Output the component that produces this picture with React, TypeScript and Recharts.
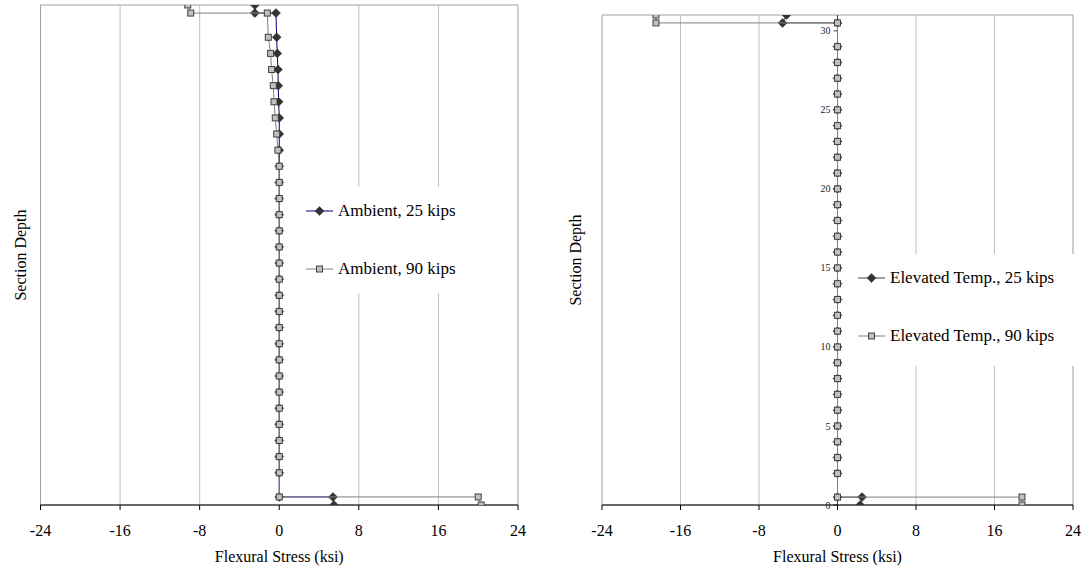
import {
  Legend,
  ReferenceArea,
  ReferenceLine,
  Scatter,
  ScatterChart,
  XAxis,
  YAxis,
} from "recharts";

const FONT = "'Liberation Serif', 'Times New Roman', serif";

// depth of each point along the section, top to bottom
const depths = [
  31, 30.5, 30.5, 29, 28, 27, 26, 25, 24, 23, 22, 21, 20, 19, 18, 17, 16, 15,
  14, 13, 12, 11, 10, 9, 8, 7, 6, 5, 4, 3, 2, 0.5, 0.5, 0,
];

const ambient25 = [
  -2.45, -2.45, -0.33, -0.26, -0.2, -0.13, -0.1, -0.06, 0, 0, 0, 0, 0, 0, 0, 0,
  0, 0, 0, 0, 0, 0, 0, 0, 0, 0, 0, 0, 0, 0, 0, 0, 5.4, 5.5,
];
const ambient90 = [
  -9.2, -8.9, -1.2, -1.1, -0.87, -0.77, -0.6, -0.53, -0.4, -0.26, -0.13, 0, 0,
  0, 0, 0, 0, 0, 0, 0, 0, 0, 0, 0, 0, 0, 0, 0, 0, 0, 0, 0, 20.0, 20.3,
];
const elevated25 = [
  -5.2, -5.6, 0, 0, 0, 0, 0, 0, 0, 0, 0, 0, 0, 0, 0, 0, 0, 0, 0, 0, 0, 0, 0, 0,
  0, 0, 0, 0, 0, 0, 0, 0, 2.5, 2.3,
];
const elevated90 = [
  -18.5, -18.5, 0, 0, 0, 0, 0, 0, 0, 0, 0, 0, 0, 0, 0, 0, 0, 0, 0, 0, 0, 0, 0,
  0, 0, 0, 0, 0, 0, 0, 0, 0, 18.8, 18.8,
];

const xTicks = [-24, -16, -8, 0, 8, 16, 24];
const gridTicks = [-16, -8, 8, 16];
const depthTicks = [0, 5, 10, 15, 20, 25, 30];

const toPoints = (xs: number[]) => xs.map((x, i) => ({ x, y: depths[i] }));

const Diamond = (props: any) => {
  const { cx, cy } = props;
  if (cx == null || cy == null) return null;
  const r = 4.5;
  return (
    <path
      d={`M${cx},${cy - r}L${cx + r},${cy}L${cx},${cy + r}L${cx - r},${cy}Z`}
      fill="#333333"
      stroke="#333333"
      strokeWidth={0.5}
    />
  );
};

const Square = (props: any) => {
  const { cx, cy } = props;
  if (cx == null || cy == null) return null;
  return (
    <rect
      x={cx - 3}
      y={cy - 3}
      width={6}
      height={6}
      fill="#c0c0c0"
      stroke="#404040"
      strokeWidth={1}
    />
  );
};

interface Entry {
  name: string;
  color: string;
  marker: "diamond" | "square";
}

function legendContent(entries: Entry[]) {
  return () => (
    <div style={{ background: "#fff", width: "100%", height: "100%" }}>
      {entries.map((e, i) => (
        <div
          key={e.name}
          style={{
            position: "absolute",
            left: 6,
            top: 14 + i * 58,
            display: "flex",
            alignItems: "center",
            fontFamily: FONT,
            fontSize: 17,
            color: "#000",
            whiteSpace: "nowrap",
          }}
        >
          <svg width={28} height={12} style={{ marginRight: 4 }}>
            <line x1={0} y1={6} x2={27} y2={6} stroke={e.color} strokeWidth={1} />
            {e.marker === "diamond" ? (
              <Diamond cx={13.5} cy={6} />
            ) : (
              <rect x={10.5} y={3} width={6} height={6} fill="#c0c0c0" stroke="#404040" />
            )}
          </svg>
          {e.name}
        </div>
      ))}
    </div>
  );
}

interface PanelProps {
  s25: number[];
  s90: number[];
  name25: string;
  name90: string;
  color25: string;
  top: number;
  right: number;
  yAxisWidth: number;
  marginLeft: number;
  depthAxis: boolean;
  legendBox: { left: number; top: number; width: number; height: number };
}

function Panel(p: PanelProps) {
  return (
    <ScatterChart
      width={546}
      height={568}
      margin={{ top: p.top, right: p.right, left: p.marginLeft, bottom: 0 }}
      style={{ fontFamily: FONT }}
    >
      <XAxis
        type="number"
        dataKey="x"
        domain={[-24, 24]}
        ticks={xTicks}
        allowDataOverflow
        height={63}
        stroke="#000"
        tickSize={5}
        tickMargin={15}
        tick={{ fontSize: 16, fill: "#000", fontFamily: FONT }}
        label={{
          value: "Flexural Stress (ksi)",
          position: "insideBottom",
          offset: 6,
          fontSize: 16,
          fill: "#000",
          fontFamily: FONT,
        }}
      />
      <YAxis
        type="number"
        dataKey="y"
        domain={[0, 31]}
        allowDataOverflow
        width={p.yAxisWidth}
        tick={false}
        tickLine={false}
        axisLine={false}
        label={{
          value: "Section Depth",
          angle: -90,
          position: "center",
          fontSize: 16,
          fill: "#000",
          fontFamily: FONT,
        }}
      />
      {gridTicks.map((t) => (
        <ReferenceLine key={t} x={t} stroke="#c0c0c0" strokeWidth={1} />
      ))}
      <ReferenceArea
        x1={-24}
        x2={24}
        y1={0}
        y2={31}
        fill="none"
        stroke="#a0a0a0"
        strokeWidth={1}
      />
      {p.depthAxis && <ReferenceLine x={0} stroke="#404040" strokeWidth={1} />}
      {p.depthAxis &&
        depthTicks.map((t) => (
          <ReferenceLine
            key={`d${t}`}
            segment={[
              { x: -0.4, y: t },
              { x: 0, y: t },
            ]}
            stroke="#404040"
            label={{
              value: String(t),
              position: "left",
              offset: 3,
              fontSize: 10,
              fill: "#222",
              fontFamily: FONT,
            }}
          />
        ))}
      <Legend
        layout="vertical"
        align="center"
        verticalAlign="middle"
        wrapperStyle={{ ...p.legendBox, position: "absolute" }}
        content={legendContent([
          { name: p.name25, color: p.color25, marker: "diamond" },
          { name: p.name90, color: "#808080", marker: "square" },
        ])}
      />
      <Scatter
        name={p.name25}
        data={toPoints(p.s25)}
        line={{ stroke: p.color25, strokeWidth: 1 }}
        lineType="joint"
        shape={Diamond}
        isAnimationActive={false}
      />
      <Scatter
        name={p.name90}
        data={toPoints(p.s90)}
        line={{ stroke: "#808080", strokeWidth: 1 }}
        lineType="joint"
        shape={Square}
        isAnimationActive={false}
      />
    </ScatterChart>
  );
}

export default function App() {
  return (
    <div
      style={{
        position: "absolute",
        left: 0,
        top: 0,
        width: 1092,
        height: 568,
        display: "flex",
        background: "#fff",
      }}
    >
      <Panel
        s25={ambient25}
        s90={ambient90}
        name25="Ambient, 25 kips"
        name90="Ambient, 90 kips"
        color25="#000080"
        top={5}
        right={28}
        marginLeft={0}
        yAxisWidth={40.5}
        depthAxis={false}
        legendBox={{ left: 300, top: 187, width: 168, height: 106 }}
      />
      <Panel
        s25={elevated25}
        s90={elevated90}
        name25="Elevated Temp., 25 kips"
        name90="Elevated Temp., 90 kips"
        color25="#404040"
        top={15}
        right={19}
        marginLeft={2}
        yAxisWidth={54}
        depthAxis={true}
        legendBox={{ left: 306, top: 254, width: 222, height: 112 }}
      />
    </div>
  );
}
